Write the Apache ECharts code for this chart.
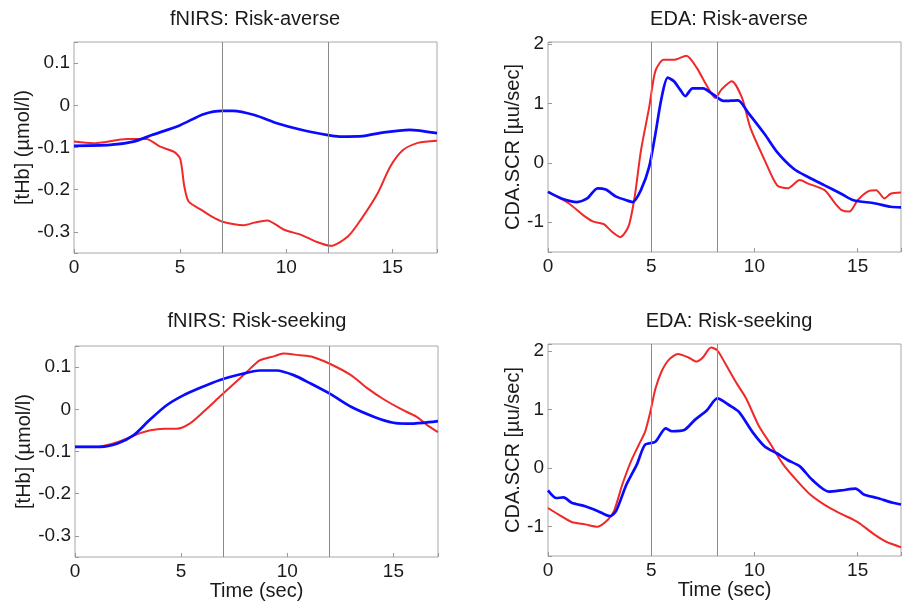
<!DOCTYPE html>
<html>
<head>
<meta charset="utf-8">
<script src="https://cdn.jsdelivr.net/npm/echarts@6/dist/echarts.min.js"></script>
<style>
html,body{margin:0;padding:0;background:#fff;}
#chart{width:904px;height:605px;}
</style>
</head>
<body>
<div id="chart"></div>
<script>
// ---- data (time in sec) ----
// fNIRS: Risk-averse
var faBlueT = [0, 1.7, 2.8, 3.7, 5, 6.1, 7, 7.5, 8.5, 9.6, 10.7, 11.9, 12.5, 13.6, 14.6, 15.8, 17.1];
var faBlueV = [-0.096, -0.094, -0.086, -0.07, -0.047, -0.021, -0.013, -0.013, -0.023, -0.043, -0.058, -0.07, -0.074, -0.073, -0.064, -0.058, -0.066];
var faRedT = [0, 0.9, 2.5, 3.4, 4.06, 4.7, 5.0, 5.2, 5.4, 6.0, 6.5, 7, 8, 8.5, 9.1, 9.9, 10.7, 11.4, 12.1, 12.9, 13.5, 14.3, 14.9, 15.5, 16.2, 17.1];
var faRedV = [-0.086, -0.09, -0.08, -0.08, -0.098, -0.11, -0.126, -0.193, -0.228, -0.248, -0.264, -0.276, -0.284, -0.278, -0.273, -0.295, -0.307, -0.323, -0.333, -0.311, -0.272, -0.209, -0.145, -0.106, -0.089, -0.084];
// EDA: Risk-averse
var eaRedT = [0, 1, 1.7, 2.2, 2.7, 3.1, 3.5, 3.9, 4.2, 4.5, 4.9, 5.2, 5.6, 6.1, 6.7, 7.2, 7.7, 8.1, 8.4, 8.9, 9.4, 9.8, 10.5, 11.1, 11.6, 12.2, 12.6, 13.4, 13.9, 14.2, 14.6, 15, 15.5, 15.9, 16.3, 16.6, 17.1];
var eaRedV = [-0.49, -0.68, -0.88, -0.99, -1.03, -1.16, -1.25, -1.07, -0.57, 0.2, 0.93, 1.54, 1.73, 1.73, 1.8, 1.6, 1.29, 1.09, 1.23, 1.37, 1.09, 0.59, 0.04, -0.38, -0.43, -0.29, -0.35, -0.46, -0.68, -0.79, -0.82, -0.63, -0.48, -0.46, -0.6, -0.52, -0.5];
var eaBlueT = [0, 0.65, 1.4, 1.9, 2.4, 2.8, 3.3, 3.8, 4.1, 4.5, 4.9, 5.2, 5.5, 5.8, 6.1, 6.4, 6.65, 7, 7.5, 8, 8.5, 9.2, 9.7, 10.5, 11.1, 11.9, 12.6, 13.4, 14.2, 14.8, 15.8, 16.6, 17.1];
var eaBlueV = [-0.49, -0.6, -0.66, -0.6, -0.43, -0.45, -0.57, -0.63, -0.66, -0.46, -0.07, 0.48, 1.09, 1.43, 1.37, 1.23, 1.12, 1.25, 1.25, 1.15, 1.04, 1.05, 0.84, 0.48, 0.18, -0.1, -0.24, -0.38, -0.52, -0.63, -0.68, -0.74, -0.75];
// fNIRS: Risk-seeking
var fsRedT = [0, 1, 1.8, 2.4, 3.1, 3.5, 4.2, 4.8, 5.4, 6.05, 6.8, 7.5, 8.1, 8.7, 9.4, 9.8, 10.6, 11.2, 12, 13, 13.8, 14.5, 15.3, 16.1, 16.6, 17.1];
var fsRedV = [-0.089, -0.089, -0.081, -0.07, -0.056, -0.05, -0.046, -0.046, -0.034, -0.006, 0.029, 0.061, 0.089, 0.116, 0.126, 0.132, 0.128, 0.124, 0.108, 0.081, 0.049, 0.025, 0.002, -0.018, -0.038, -0.054];
var fsBlueT = [0, 1.2, 2, 2.75, 3.5, 4.3, 5.1, 5.9, 6.8, 7.8, 8.7, 9.5, 10.3, 11.1, 12, 13, 14.1, 15, 15.6, 16.4, 17.1];
var fsBlueV = [-0.089, -0.089, -0.081, -0.062, -0.026, 0.009, 0.033, 0.051, 0.069, 0.083, 0.092, 0.092, 0.081, 0.061, 0.037, 0.006, -0.018, -0.032, -0.034, -0.032, -0.028];
// EDA: Risk-seeking
var esRedT = [0, 0.5, 1.15, 1.8, 2.4, 2.9, 3.2, 3.6, 4.0, 4.4, 4.7, 4.95, 5.2, 5.5, 5.85, 6.3, 6.8, 7.2, 7.5, 7.9, 8.2, 8.6, 9.1, 9.6, 10.2, 10.8, 11.4, 12.1, 12.7, 13.5, 14.2, 15, 15.8, 16.3, 16.7, 17.1];
var esRedV = [-0.68, -0.79, -0.92, -0.96, -1.0, -0.88, -0.73, -0.28, 0.1, 0.4, 0.62, 0.95, 1.35, 1.65, 1.85, 1.95, 1.89, 1.82, 1.89, 2.06, 2.01, 1.78, 1.47, 1.19, 0.73, 0.4, 0.06, -0.23, -0.45, -0.65, -0.78, -0.92, -1.13, -1.24, -1.3, -1.35];
var esBlueT = [0, 0.4, 0.75, 1.15, 1.8, 2.4, 3.0, 3.3, 3.8, 4.3, 4.7, 5.2, 5.7, 6.0, 6.6, 7.1, 7.7, 8.2, 8.8, 9.25, 9.9, 10.5, 11.1, 11.6, 12.2, 12.8, 13.6, 14.2, 14.9, 15.3, 15.95, 16.7, 17.1];
var esBlueV = [-0.38, -0.51, -0.5, -0.59, -0.65, -0.73, -0.82, -0.73, -0.28, 0.06, 0.4, 0.45, 0.68, 0.63, 0.65, 0.82, 0.99, 1.19, 1.07, 0.96, 0.62, 0.37, 0.25, 0.14, 0.03, -0.2, -0.4, -0.38, -0.35, -0.45, -0.51, -0.59, -0.62];

// event markers (sec)
var fnirsMarks = [7, 12];
var edaMarks = [5, 8.2];
var xTicks = [0, 5, 10, 15];
var titles = ['fNIRS: Risk-averse', 'EDA: Risk-averse', 'fNIRS: Risk-seeking', 'EDA: Risk-seeking'];
var yNames = ['[tHb] (\u00b5mol/l)', 'CDA.SCR [\u00b5u/sec]'];
var xName = 'Time (sec)';

function pairs(t, v) { return t.map(function (x, i) { return [x, v[i]]; }); }

var FONT = 'Liberation Sans, Arial, sans-serif';
var BLUE = '#0a0aff', RED = '#f02828';
var TXT = '#1a1a1a';

var grids = [
  {left: 74, top: 42, width: 363, height: 211},
  {left: 548, top: 42, width: 366, height: 210},
  {left: 75, top: 346, width: 363, height: 211},
  {left: 548, top: 344, width: 366, height: 212}
];
grids.forEach(function (g) { g.show = true; g.borderColor = '#a8a8a8'; g.borderWidth = 1; g.backgroundColor = 'transparent'; });

function xAxis(i, withName) {
  return {
    type: 'value', gridIndex: i, min: 0, max: 17.1, interval: 5,
    axisLine: {show: false, onZero: false},
    axisTick: {show: true, inside: true, length: 4, lineStyle: {color: '#999'}},
    splitLine: {show: false},
    axisLabel: {color: TXT, fontSize: 19, fontFamily: FONT, margin: 5,
      formatter: function (v) { return xTicks.indexOf(v) >= 0 ? String(v) : ''; }},
    name: withName ? xName : '', nameLocation: 'middle', nameGap: 14,
    nameTextStyle: {color: TXT, fontSize: 20, fontFamily: FONT}
  };
}
function yAxis(i, min, max, step, name, gap) {
  return {
    type: 'value', gridIndex: i, min: min, max: max, splitNumber: 5,
    axisLine: {show: false, onZero: false},
    axisTick: {show: true, inside: true, length: 4, lineStyle: {color: '#999'}},
    splitLine: {show: false},
    axisLabel: {color: TXT, fontSize: 19, fontFamily: FONT, margin: 4,
      formatter: function (v) {
        var k = v / step;
        if (Math.abs(k - Math.round(k)) > 1e-6) return '';
        var r = Math.round(k) * step;
        r = Math.round(r * 100) / 100;
        return String(r === 0 ? 0 : r);
      }},
    name: name, nameLocation: 'middle', nameGap: gap,
    nameTextStyle: {color: TXT, fontSize: 20, fontFamily: FONT}
  };
}

function line(i, t, v, color, width) {
  return {type: 'line', xAxisIndex: i, yAxisIndex: i, data: pairs(t, v), showSymbol: false,
    smooth: 0.25, lineStyle: {color: color, width: width}, itemStyle: {color: color}, z: color === BLUE ? 3 : 2, silent: true};
}
function marks(i, xs) {
  return {type: 'line', xAxisIndex: i, yAxisIndex: i, data: [], silent: true,
    markLine: {silent: true, symbol: 'none', label: {show: false}, animation: false,
      lineStyle: {color: '#8a8a8a', width: 1, type: 'solid'},
      data: xs.map(function (x) { return {xAxis: x}; })}};
}

var titleCenters = [[255, 19.5], [729, 19.5], [257, 321.5], [729, 321.5]];

var option = {
  animation: false,
  backgroundColor: '#fff',
  title: titles.map(function (t, i) {
    return {text: t, left: titleCenters[i][0] - 5, top: titleCenters[i][1] - 5, textAlign: 'center', textVerticalAlign: 'middle',
      textStyle: {fontSize: 20, fontWeight: 'normal', color: TXT, fontFamily: FONT}};
  }),
  grid: grids,
  xAxis: [xAxis(0, false), xAxis(1, false), xAxis(2, true), xAxis(3, true)],
  yAxis: [
    yAxis(0, -0.35, 0.15, 0.1, yNames[0], 40),
    yAxis(1, -1.5, 2.03, 1, yNames[1], 25),
    yAxis(2, -0.35, 0.15, 0.1, yNames[0], 41),
    yAxis(3, -1.5, 2.12, 1, yNames[1], 25)
  ],
  series: [
    marks(0, fnirsMarks), marks(1, edaMarks), marks(2, fnirsMarks), marks(3, edaMarks),
    line(0, faRedT, faRedV, RED, 2), line(0, faBlueT, faBlueV, BLUE, 2.7),
    line(1, eaRedT, eaRedV, RED, 2), line(1, eaBlueT, eaBlueV, BLUE, 2.7),
    line(2, fsRedT, fsRedV, RED, 2), line(2, fsBlueT, fsBlueV, BLUE, 2.7),
    line(3, esRedT, esRedV, RED, 2), line(3, esBlueT, esBlueV, BLUE, 2.7)
  ]
};
var chart = echarts.init(document.getElementById('chart'), null, {renderer: 'canvas'});
chart.setOption(option);
</script>
</body>
</html>
